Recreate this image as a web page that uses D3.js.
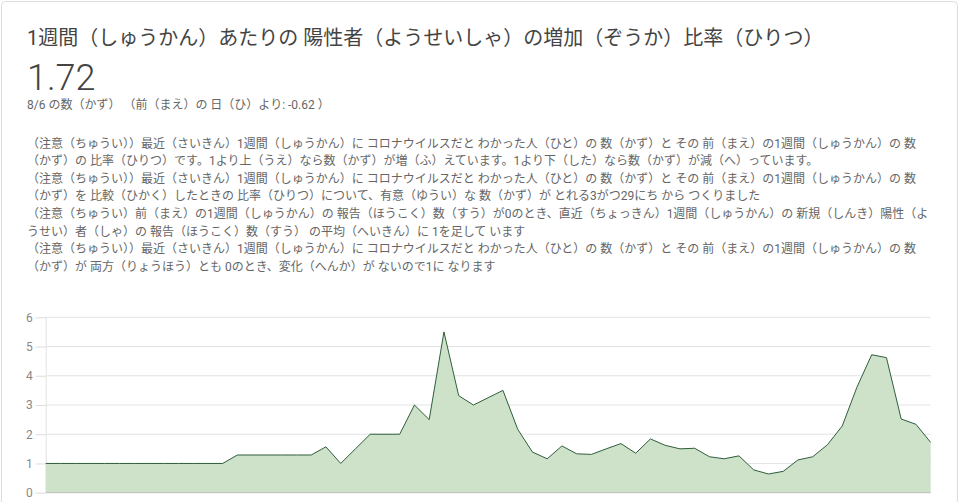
<!DOCTYPE html>
<html>
<head>
<meta charset="utf-8">
<script src="https://cdn.jsdelivr.net/npm/d3@7"></script>
<style>
  html, body { margin: 0; padding: 0; background: #fff; }
  svg { display: block; font-family: Roboto, "Noto Sans CJK JP", sans-serif; }
</style>
</head>
<body>
<svg id="chart" width="959" height="502"></svg>
<script>
const titleText = "1週間（しゅうかん）あたりの 陽性者（ようせいしゃ）の増加（ぞうか）比率（ひりつ）";
const bigValue = "1.72";
const subText = "8/6 の数（かず） （前（まえ）の 日（ひ）より: -0.62 ）";
const noteLines = [
  "（注意（ちゅうい））最近（さいきん）1週間（しゅうかん）に コロナウイルスだと わかった人（ひと）の 数（かず）と その 前（まえ）の1週間（しゅうかん）の 数",
  "（かず）の 比率（ひりつ）です。1より上（うえ）なら数（かず）が増（ふ）えています。1より下（した）なら数（かず）が減（へ）っています。",
  "（注意（ちゅうい））最近（さいきん）1週間（しゅうかん）に コロナウイルスだと わかった人（ひと）の 数（かず）と その 前（まえ）の1週間（しゅうかん）の 数",
  "（かず）を 比較（ひかく）したときの 比率（ひりつ）について、有意（ゆうい）な 数（かず）が とれる3がつ29にち から つくりました",
  "（注意（ちゅうい）前（まえ）の1週間（しゅうかん）の 報告（ほうこく）数（すう）が0のとき、直近（ちょっきん）1週間（しゅうかん）の 新規（しんき）陽性（よ",
  "うせい）者（しゃ）の 報告（ほうこく）数（すう） の平均（へいきん）に 1を足して います",
  "（注意（ちゅうい））最近（さいきん）1週間（しゅうかん）に コロナウイルスだと わかった人（ひと）の 数（かず）と その 前（まえ）の1週間（しゅうかん）の 数",
  "（かず）が 両方（りょうほう）とも 0のとき、変化（へんか）が ないので1に なります"
];

// categories: daily dates ending 8/6
const dates = d3.timeDay.range(new Date(2020, 5, 7), new Date(2020, 7, 7));
const ratios = [
  1.0, 1.0, 1.0, 1.0, 1.0, 1.0, 1.0, 1.0, 1.0, 1.0, 1.0, 1.0, 1.0,
  1.29, 1.29, 1.29, 1.29, 1.29, 1.29,
  1.57, 1.0, 1.5, 2.0, 2.0, 2.0, 3.0, 2.5, 5.5, 3.32, 3.0,
  3.25, 3.5, 2.17, 1.39, 1.16, 1.6, 1.33, 1.31, 1.5, 1.68,
  1.35, 1.84, 1.62, 1.5, 1.52, 1.23, 1.16, 1.26, 0.78, 0.64,
  0.73, 1.12, 1.23, 1.64, 2.28, 3.61, 4.72, 4.62, 2.52, 2.34,
  1.72
];
const yTicks = [0, 1, 2, 3, 4, 5, 6];

const svg = d3.select("#chart");

// card
svg.append("rect")
  .attr("x", 1.5).attr("y", 1.5)
  .attr("width", 956).attr("height", 540)
  .attr("rx", 4)
  .attr("fill", "#fff")
  .attr("stroke", "#dcdcdc");

svg.append("text")
  .attr("x", 27).attr("y", 45)
  .attr("font-size", 20).attr("fill", "#444")
  .text(titleText);

svg.append("text")
  .attr("x", 27).attr("y", 90)
  .attr("font-size", 36).attr("font-weight", 300).attr("fill", "#444")
  .text(bigValue);

svg.append("text")
  .attr("x", 27).attr("y", 109)
  .attr("font-size", 12).attr("fill", "#666")
  .text(subText);

svg.append("g").selectAll("text")
  .data(noteLines)
  .join("text")
  .attr("x", 27)
  .attr("y", (d, i) => 147.5 + i * 17.6)
  .attr("font-size", 12).attr("fill", "#666")
  .text(d => d);

// chart
const x = d3.scalePoint().domain(dates.map(d => +d)).range([45.7, 930.7]);
const y = d3.scaleLinear().domain([0, 6]).range([492.7, 317.3]);

const grid = svg.append("g");
grid.selectAll("line")
  .data(yTicks.filter(t => t > 0))
  .join("line")
  .attr("x1", 45.7).attr("x2", 930.7)
  .attr("y1", d => y(d)).attr("y2", d => y(d))
  .attr("stroke", "#e3e3e3");

const yAxis = svg.append("g")
  .attr("transform", "translate(45.7,0)")
  .call(d3.axisLeft(y).tickValues(yTicks).tickSize(10).tickPadding(3).tickFormat(d3.format("d")));
yAxis.select(".domain").attr("stroke", "#e3e3e3").attr("d", `M0.5,${y(6)}V${y(0)}`);
yAxis.selectAll(".tick line").attr("stroke", "#dcdcdc");
yAxis.selectAll(".tick text").attr("fill", "#888").attr("font-size", 12)
  .attr("font-family", "Roboto, 'Noto Sans CJK JP', sans-serif");

const series = dates.map((d, i) => ({ d: +d, v: ratios[i] }));

svg.append("path")
  .datum(series)
  .attr("fill", "#cde2c9")
  .attr("d", d3.area().x(p => x(p.d)).y0(y(0)).y1(p => y(p.v)));

svg.append("line")
  .attr("x1", 45.7).attr("x2", 930.7)
  .attr("y1", y(0)).attr("y2", y(0))
  .attr("stroke", "#bdbdbd");

svg.append("path")
  .datum(series)
  .attr("fill", "none")
  .attr("stroke", "#2f5e3b")
  .attr("stroke-width", 1)
  .attr("d", d3.line().x(p => x(p.d)).y(p => y(p.v)));
</script>
</body>
</html>
